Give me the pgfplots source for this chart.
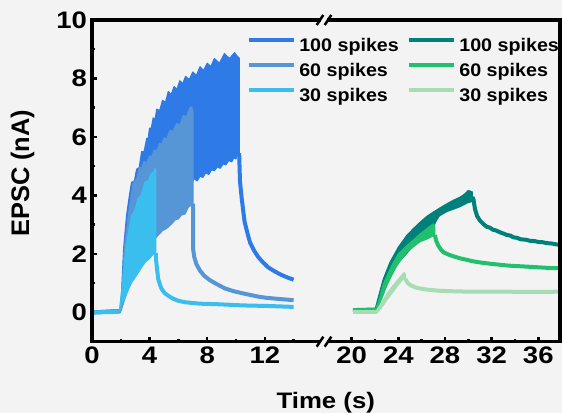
\documentclass[border=0pt]{standalone}
\usepackage{pgfplots}
\pgfplotsset{compat=1.18}
\usepackage{fontspec}
\setmainfont{Liberation Sans}
\newfontfamily\wide{Liberation Sans}[FakeStretch=1.15]
\newfontfamily\wideL{Liberation Sans}[FakeStretch=1.08]
\definecolor{bg}{RGB}{243,243,243}
\definecolor{bA}{RGB}{46,123,232}
\definecolor{bB}{RGB}{86,149,214}
\definecolor{bC}{RGB}{58,190,238}
\definecolor{gA}{RGB}{0,128,122}
\definecolor{gB}{RGB}{33,192,110}
\definecolor{gC}{RGB}{168,220,180}
\pgfplotsset{
 brk/.style={
  scale only axis, height=321.7bp, ymin=-1, ymax=10,
  axis line style={draw=none},
  tick align=inside, xtick pos=bottom, ytick pos=left,
  major tick length=5bp, minor tick length=3bp,
  tick style={black, line width=2.5bp},
  ticklabel style={font=\wide\fontsize{24}{28}\selectfont\bfseries},
  xticklabel style={yshift=-2bp},
  yticklabel style={xshift=-1.5bp},
  /pgf/number format/assume math mode=true,
  xlabel style={font=\wide\fontsize{22.5}{26}\selectfont\bfseries},
  ylabel style={font=\fontsize{25.5}{29}\selectfont\bfseries},
  legend style={anchor=north west, draw=none, fill=none, inner sep=0pt, outer sep=0pt,
    row sep=5bp, column sep=3.6bp, font=\wideL\fontsize{18.3}{22}\selectfont\bfseries,
    nodes={inner sep=0pt, text height=15bp, text depth=5bp}},
  legend cell align=left,
  legend image code/.code={\draw[##1,line width=4bp] (0bp,6.5bp) -- (45bp,6.5bp);},
  band/.style={draw=##1, fill=##1, line width=1.2bp, line join=round, forget plot},
  trace/.style={draw=##1, line width=4bp, line join=round, forget plot},
 }
}
\begin{document}
\begin{tikzpicture}
\useasboundingbox (0,0) rectangle (562bp,413bp);
\fill[bg] (0,0) rectangle (562bp,413bp);
\begin{axis}[brk, at={(92bp,71.3bp)}, anchor=south west, width=233bp,
  xmin=0, xmax=16.18, xtick={0,4,8,12}, minor xtick={2,6,10,14},
  ytick={0,2,4,6,8,10}, minor ytick={1,3,5,7,9},
  xlabel={Time (s)}, ylabel={EPSC (nA)},
  xlabel style={at={(axis description cs:1.0034,-0.2061)}, anchor=base},
  ylabel style={at={(axis description cs:-0.298,0.5235)}, anchor=center},
  legend style={at={(axis description cs:0.6639,0.9493)}}]
% 100 spikes
\addplot[band=bA] coordinates {(2.0,0.1)(2.2,2.2)(2.4,3.3)(2.6,4.0)(2.75,4.45)(2.95,4.5)(3.1,4.9)(3.28,4.95)(3.45,5.5)(3.62,5.5)(3.8,5.95)(3.9,5.95)(4.0,6.3)(4.12,6.3)(4.25,6.65)(4.38,6.6)(4.5,6.95)(4.7,6.9)(4.9,7.25)(5.1,7.18)(5.3,7.55)(5.5,7.45)(5.7,7.72)(5.9,7.63)(6.1,7.92)(6.3,7.82)(6.5,8.07)(6.75,7.96)(7.0,8.22)(7.25,8.1)(7.5,8.4)(7.75,8.27)(8.0,8.52)(8.25,8.4)(8.5,8.68)(8.85,8.52)(9.2,8.85)(9.55,8.68)(9.9,8.88)(10.1,8.75)(10.22,8.7)
(10.22,5.45)(10.1,5.38)(10.0,5.25)(9.85,5.3)(9.7,5.15)(9.5,5.2)(9.3,5.05)(9.1,5.08)(8.9,4.93)(8.7,4.98)(8.5,4.85)(8.3,4.88)(8.1,4.72)(7.9,4.78)(7.7,4.62)(7.5,4.66)(7.3,4.5)(7.1,4.58)(7.0,4.5)(6.5,4.0)(6.0,3.7)(5.0,3.2)(4.0,2.55)(3.5,2.15)(3.0,1.7)(2.5,0.95)(2.2,0.4)(2.0,0.05)} --cycle;
\addplot[trace=bA] coordinates {(0,0)(2.0,0.05)};
\addplot[trace=bA] coordinates {(10.22,5.45)(10.25,4.9)(10.28,4.46)(10.4,3.88)(10.6,3.09)(10.8,2.7)(10.97,2.4)(11.25,2.12)(11.55,1.89)(11.9,1.7)(12.24,1.54)(12.7,1.4)(13.17,1.28)(13.6,1.19)(14.0,1.12)};
% 60 spikes
\addplot[band=bB] coordinates {(2.0,0.1)(2.24,2.17)(2.52,3.31)(2.87,4.46)(3.1,4.55)(3.3,4.95)(3.45,4.95)(3.6,5.15)(3.8,5.12)(4.0,5.35)(4.15,5.32)(4.3,5.55)(4.5,5.52)(4.7,5.78)(4.85,5.74)(5.0,5.97)(5.2,5.93)(5.42,6.23)(5.6,6.18)(5.88,6.46)(6.1,6.4)(6.34,6.74)(6.55,6.68)(6.8,7.0)(6.92,7.03)(7.02,6.85)
(7.02,3.72)(6.85,3.66)(6.69,3.6)(6.46,3.37)(6.2,3.33)(6.0,3.2)(5.8,3.18)(5.53,3.03)(5.2,2.88)(4.9,2.8)(4.6,2.65)(4.0,2.3)(3.5,1.9)(3.0,1.45)(2.5,0.85)(2.2,0.35)(2.0,0.05)} --cycle;
\addplot[trace=bB] coordinates {(0,0)(2.0,0.05)};
\addplot[trace=bB] coordinates {(7.02,3.72)(7.02,2.17)(7.1,1.9)(7.25,1.65)(7.5,1.43)(7.8,1.25)(8.2,1.1)(8.66,0.97)(9.24,0.82)(9.81,0.73)(10.5,0.65)(11.55,0.54)(12.13,0.5)(13.0,0.46)(14.0,0.42)};
% 30 spikes
\addplot[band=bC] coordinates {(1.9,0.05)(2.1,0.9)(2.34,2.17)(2.55,2.8)(2.75,3.31)(2.95,3.45)(3.2,3.9)(3.4,4.0)(3.68,4.46)(3.9,4.5)(4.1,4.75)(4.3,4.8)(4.38,4.92)(4.43,4.85)
(4.43,2.03)(4.26,2.0)(4.0,1.85)(3.68,1.71)(3.45,1.55)(3.22,1.37)(3.0,1.2)(2.76,1.03)(2.5,0.75)(2.3,0.5)(2.06,0.3)(1.95,0.05)} --cycle;
\addplot[trace=bC] coordinates {(0,0)(1.9,0.02)};
\addplot[trace=bC] coordinates {(4.43,2.03)(4.45,1.8)(4.49,1.6)(4.6,1.14)(4.72,0.95)(4.84,0.8)(5.05,0.66)(5.3,0.57)(5.6,0.48)(5.99,0.4)(6.46,0.35)(7.5,0.3)(8.8,0.28)(10.5,0.24)(12.3,0.22)(14.0,0.19)};
\addlegendimage{bA}\addlegendentry{100 spikes}
\addlegendimage{bB}\addlegendentry{60 spikes}
\addlegendimage{bC}\addlegendentry{30 spikes}
\end{axis}
\begin{axis}[brk, at={(325bp,71.3bp)}, anchor=south west, width=235bp,
  xmin=17.71, xmax=37.864, xtick={20,24,28,32,36}, minor xtick={22,26,30,34},
  ytick=\empty,
  legend style={at={(axis description cs:0.3477,0.9493)}}]
% 100 spikes
\addplot[band=gA] coordinates {(22.0,0.1)(22.71,1.14)(23.28,1.71)(24.0,2.23)(24.72,2.63)(25.3,2.87)(25.86,3.08)(26.4,3.27)(27.0,3.43)(27.6,3.58)(28.15,3.71)(28.7,3.83)(29.29,3.94)(29.7,4.05)(30.0,4.17)(30.35,4.12)
(30.35,3.8)(29.86,3.74)(29.3,3.62)(28.7,3.53)(28.15,3.45)(27.5,3.3)(27.2,3.1)(27.0,2.9)(26.0,2.55)(25.0,2.15)(24.0,1.7)(23.2,1.15)(22.6,0.65)(22.1,0.1)} --cycle;
\addplot[trace=gA] coordinates {(20.1,0.08)(22.0,0.1)};
\addplot[trace=gA] coordinates {(30.35,3.95)(30.45,3.85)(30.57,3.54)(30.75,3.3)(31.0,3.14)(31.3,3.02)(31.58,2.93)(31.85,2.9)(32.1,2.83)(32.4,2.8)(32.72,2.74)(33.0,2.7)(33.3,2.65)(33.6,2.63)(33.86,2.57)(34.2,2.55)(34.5,2.5)(34.9,2.49)(35.29,2.45)(35.7,2.44)(36.0,2.41)(36.4,2.4)(36.72,2.37)(37.1,2.36)(37.5,2.33)(37.86,2.31)};
% 60 spikes
\addplot[band=gB] coordinates {(22.0,0.05)(22.4,0.5)(22.71,0.97)(23.2,1.4)(23.57,1.71)(24.0,2.0)(24.72,2.28)(25.3,2.48)(25.86,2.68)(26.4,2.85)(26.8,2.97)(27.0,3.03)(27.12,2.95)
(27.12,2.65)(26.5,2.52)(25.86,2.42)(25.3,2.25)(24.72,2.06)(24.3,1.85)(23.86,1.6)(23.4,1.25)(23.0,0.91)(22.6,0.5)(22.3,0.2)(22.05,0.05)} --cycle;
\addplot[trace=gB] coordinates {(20.1,0.08)(22.05,0.08)};
\addplot[trace=gB] coordinates {(27.12,2.65)(27.25,2.45)(27.43,2.28)(27.65,2.15)(27.86,2.06)(28.3,1.98)(28.72,1.92)(29.3,1.85)(29.86,1.8)(30.4,1.75)(31.0,1.71)(31.8,1.67)(32.72,1.63)(33.5,1.6)(34.43,1.58)(35.3,1.56)(36.15,1.54)(37.0,1.52)(37.86,1.51)};
% 30 spikes
\addplot[band=gC] coordinates {(22.1,0.05)(22.6,0.36)(23.0,0.62)(23.5,0.9)(23.86,1.07)(24.2,1.23)(24.5,1.37)(24.62,1.3)
(24.62,1.12)(24.43,1.15)(24.0,0.95)(23.5,0.68)(23.0,0.42)(22.5,0.13)(22.2,0.0)} --cycle;
\addplot[trace=gC] coordinates {(20.1,0.0)(22.2,0.0)};
\addplot[trace=gC] coordinates {(24.62,1.15)(24.72,1.05)(24.9,0.97)(25.15,0.91)(25.5,0.85)(25.86,0.82)(26.5,0.78)(27.57,0.74)(29.0,0.72)(30.43,0.71)(33.29,0.71)(35.5,0.7)(37.86,0.71)};
\addlegendimage{gA}\addlegendentry{100 spikes}
\addlegendimage{gB}\addlegendentry{60 spikes}
\addlegendimage{gC}\addlegendentry{30 spikes}
\end{axis}
\draw[line width=3.3bp] (92bp,71.3bp) rectangle (560bp,393bp);
\foreach \yy in {71.3bp,393bp}{
  \fill[bg] (321bp,\yy-2.5bp) rectangle (327bp,\yy+2.5bp);
  \draw[line width=2.5bp] (316.7bp,\yy-5bp) -- (323.3bp,\yy+5bp);
  \draw[line width=2.5bp] (324.7bp,\yy-5bp) -- (331.3bp,\yy+5bp);
}
\end{tikzpicture}
\end{document}
